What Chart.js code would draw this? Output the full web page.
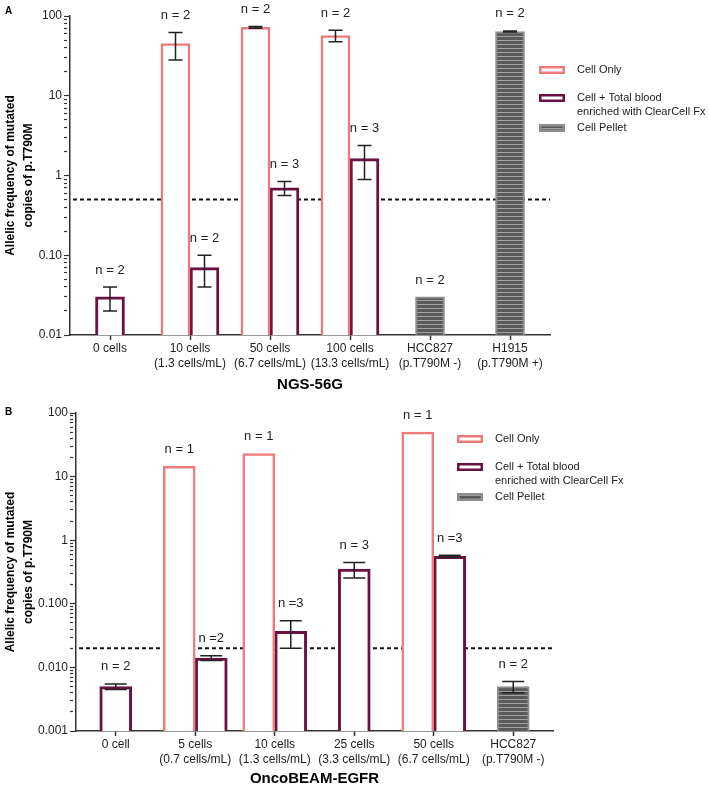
<!DOCTYPE html>
<html>
<head>
<meta charset="utf-8">
<script src="https://cdn.jsdelivr.net/npm/chart.js@4.4.0/dist/chart.umd.min.js"></script>
<style>
    html, body { margin: 0; padding: 0; background: #fff; }
    #wrapA { position: absolute; left: 0; top: 0; width: 709px; height: 395px; }
    #wrapB { position: absolute; left: 0; top: 395px; width: 709px; height: 395px; }
</style>
</head>
<body>
<div id="wrapA"><canvas id="chartA"></canvas></div>
<div id="wrapB"><canvas id="chartB"></canvas></div>
<script>
// --- Painel A : NGS-56G ---
const categoriesA = [['0 cells'], ['10 cells', '(1.3 cells/mL)'], ['50 cells', '(6.7 cells/mL)'],
    ['100 cells', '(13.3 cells/mL)'], ['HCC827', '(p.T790M -)'], ['H1915', '(p.T790M +)']];
const cellOnlyA = [null, 45, 72, 57, null, null];
const cellOnlyErrA = [null, 17, 2, 9.5, null, null];
const cellOnlyNA = [null, 'n = 2', 'n = 2', 'n = 2', null, null];
const bloodA = [0.03, 0.07, 0.7, 1.63, null, null];
const bloodErrA = [0.01, 0.03, 0.14, 0.74, null, null];
const bloodNA = ['n = 2', 'n = 2', 'n = 3', 'n = 3', null, null];
const pelletA = [null, null, null, null, 0.03, 64];
const pelletErrA = [null, null, null, null, null, 1];
const pelletNA = [null, null, null, null, 'n = 2', 'n = 2'];
const thresholdA = 0.5;
const yMajorsA = [0.01, 0.1, 1, 10, 100];
const yLabelsA = ['0.01', '0.10', '1', '10', '100'];

// --- Painel B : OncoBEAM-EGFR ---
const categoriesB = [['0 cell'], ['5 cells', '(0.7 cells/mL)'], ['10 cells', '(1.3 cells/mL)'],
    ['25 cells', '(3.3 cells/mL)'], ['50 cells', '(6.7 cells/mL)'], ['HCC827', '(p.T790M -)']];
const cellOnlyB = [null, 14.5, 23, null, 50, null];
const cellOnlyErrB = [null, null, null, null, null, null];
const cellOnlyNB = [null, 'n = 1', 'n = 1', null, 'n = 1', null];
const bloodB = [0.005, 0.014, 0.037, 0.35, 0.56, null];
const bloodErrB = [0.0005, 0.0012, 0.017, 0.095, 0.02, null];
const bloodNB = ['n = 2', 'n =2', 'n =3', 'n = 3', 'n =3', null];
const pelletB = [null, null, null, null, null, 0.005];
const pelletErrB = [null, null, null, null, null, 0.001];
const pelletNB = [null, null, null, null, null, 'n = 2'];
const thresholdB = 0.02;
const yMajorsB = [0.001, 0.01, 0.1, 1, 10, 100];
const yLabelsB = ['0.001', '0.010', '0.100', '1', '10', '100'];

const legendLabels = ['Cell Only', ['Cell + Total blood', 'enriched with ClearCell Fx'], 'Cell Pellet'];

// --- Estilos ---
const FONT = "'Liberation Sans', Arial, sans-serif";
const PINK = '#f07a7a';
const PURPLE = '#6a1242';
const INK = '#222';

function stripePattern() {
    const c = document.createElement('canvas');
    c.width = 4; c.height = 4;
    const g = c.getContext('2d');
    g.fillStyle = '#5a5a5a'; g.fillRect(0, 0, 4, 4);
    g.fillStyle = '#a2a2a2'; g.fillRect(0, 0, 4, 1);
    return g.createPattern(c, 'repeat');
}
const PELLET_FILL = stripePattern();

function logTicks(majors) {
    const ticks = [];
    majors.forEach((m, i) => {
        if (i === majors.length - 1) { ticks.push(m); return; }
        for (let k = 1; k < 10; k++) ticks.push(Number((k * m).toPrecision(6)));
    });
    return ticks.map(v => ({ value: v }));
}
function isMajor(v) {
    const l = Math.log10(v);
    return Math.abs(l - Math.round(l)) < 1e-6;
}

// --- Plugin: linha tracejada, barras de erro, rótulos n, legenda ---
const panelDecor = {
    id: 'panelDecor',
    beforeDatasetsDraw(chart, args, opts) {
        const { ctx, chartArea } = chart;
        const y = chart.scales.y.getPixelForValue(opts.threshold);
        ctx.save();
        ctx.setLineDash([4, 3]);
        ctx.lineWidth = 2;
        ctx.strokeStyle = '#111';
        ctx.beginPath();
        ctx.moveTo(chartArea.left + 3, y);
        ctx.lineTo(chartArea.right, y);
        ctx.stroke();
        ctx.restore();
    },
    afterDatasetsDraw(chart, args, opts) {
        const ctx = chart.ctx;
        const yScale = chart.scales.y;
        chart.data.datasets.forEach((ds, di) => {
            const meta = chart.getDatasetMeta(di);
            meta.data.forEach((bar, i) => {
                const v = ds.data[i];
                if (v == null) return;
                const e = ds.errors[i];
                let topPx = yScale.getPixelForValue(v);
                ctx.save();
                if (e) {
                    const hi = yScale.getPixelForValue(v + e);
                    const lo = yScale.getPixelForValue(v - e);
                    ctx.strokeStyle = INK;
                    ctx.lineWidth = 1.5;
                    ctx.beginPath();
                    ctx.moveTo(bar.x, hi); ctx.lineTo(bar.x, lo);
                    ctx.moveTo(bar.x - opts.capHalf, hi); ctx.lineTo(bar.x + opts.capHalf, hi);
                    ctx.moveTo(bar.x - opts.capHalf, lo); ctx.lineTo(bar.x + opts.capHalf, lo);
                    ctx.stroke();
                    topPx = Math.min(topPx, hi);
                }
                if (ds.nLabels[i]) {
                    ctx.fillStyle = INK;
                    ctx.font = '13px ' + FONT;
                    ctx.textAlign = 'center';
                    ctx.textBaseline = 'middle';
                    ctx.fillText(ds.nLabels[i], bar.x, topPx - 17);
                }
                ctx.restore();
            });
        });
    },
    afterDraw(chart, args, opts) {
        const ctx = chart.ctx;
        ctx.save();
        // letra do painel
        ctx.fillStyle = '#000';
        ctx.font = 'bold 10px ' + FONT;
        ctx.textAlign = 'left';
        ctx.textBaseline = 'middle';
        ctx.fillText(opts.letter, 5, opts.letterY);

        // legenda
        let y = opts.legendY;
        ctx.font = '11px ' + FONT;
        chart.data.datasets.forEach(ds => {
            const lines = Array.isArray(ds.label) ? ds.label : [ds.label];
            ctx.fillStyle = ds.backgroundColor;
            ctx.fillRect(opts.legendX, y - 4, 26, 8);
            ctx.strokeStyle = ds.borderColor;
            ctx.lineWidth = 2.5;
            ctx.strokeRect(opts.legendX + 1.25, y - 2.75, 23.5, 5.5);
            ctx.fillStyle = INK;
            lines.forEach((t, k) => ctx.fillText(t, opts.legendX + 38, y + k * 14));
            y += 14 * (lines.length - 1) + (lines.length > 1 ? 16 : 28);
        });
        ctx.restore();
    }
};

function makeChart(canvasId, cfg) {
    const datasets = [
        { label: legendLabels[0], data: cfg.cellOnly, errors: cfg.cellOnlyErr, nLabels: cfg.cellOnlyN,
          backgroundColor: '#ffffff', borderColor: PINK, borderWidth: 2.5 },
        { label: legendLabels[1], data: cfg.blood, errors: cfg.bloodErr, nLabels: cfg.bloodN,
          backgroundColor: '#ffffff', borderColor: PURPLE, borderWidth: 3 },
        { label: legendLabels[2], data: cfg.pellet, errors: cfg.pelletErr, nLabels: cfg.pelletN,
          backgroundColor: PELLET_FILL, borderColor: '#8e8e8e', borderWidth: 2 }
    ];
    return new Chart(document.getElementById(canvasId).getContext('2d'), {
        type: 'bar',
        data: { labels: cfg.categories, datasets: datasets },
        options: {
            responsive: true,
            maintainAspectRatio: false,
            animation: false,
            skipNull: true,
            barThickness: cfg.barThickness,
            layout: { padding: { top: cfg.top, right: cfg.right, left: 0, bottom: 0 } },
            plugins: {
                legend: { display: false },
                tooltip: { enabled: false },
                panelDecor: {
                    threshold: cfg.threshold, capHalf: cfg.capHalf, letter: cfg.letter, letterY: cfg.letterY,
                    legendX: cfg.legendX, legendY: cfg.legendY
                }
            },
            scales: {
                x: {
                    offset: true,
                    border: { color: '#333', width: 1.5 },
                    grid: { offset: false, drawOnChartArea: false, tickLength: 5, tickColor: '#333', tickWidth: 1.5 },
                    ticks: {
                        autoSkip: false, maxRotation: 0, minRotation: 0, padding: 1, color: INK,
                        font: { family: FONT, size: 12, lineHeight: 1.25 }
                    },
                    title: {
                        display: true, text: cfg.xTitle, color: '#000',
                        font: { family: FONT, size: 15, weight: 'bold' }, padding: { bottom: cfg.xTitlePad }
                    },
                    afterFit(s) { s.height = cfg.xHeight; }
                },
                y: {
                    type: 'logarithmic',
                    min: cfg.yMajors[0],
                    max: cfg.yMajors[cfg.yMajors.length - 1],
                    border: { color: '#333', width: 1.5 },
                    grid: {
                        drawOnChartArea: false, tickLength: 6, tickColor: '#333', tickWidth: 1.2,
                        tickBorderDash: c => (c.tick && !isMajor(c.tick.value)) ? [3, 30] : []
                    },
                    ticks: {
                        autoSkip: false, padding: 2, color: INK, font: { family: FONT, size: 12 },
                        callback: value => {
                            const idx = cfg.yMajors.findIndex(m => Math.abs(m - value) / m < 1e-6);
                            return idx >= 0 ? cfg.yLabels[idx] : '';
                        }
                    },
                    title: {
                        display: true, text: ['Allelic frequency of mutated', 'copies of p.T790M'], color: '#000',
                        font: { family: FONT, size: 12, weight: 'bold', lineHeight: 1.5 }, padding: { top: 2 }
                    },
                    afterBuildTicks(s) { s.ticks = logTicks(cfg.yMajors); },
                    afterFit(s) { s.width = cfg.yWidth; }
                }
            }
        },
        plugins: [panelDecor]
    });
}

makeChart('chartA', {
    categories: categoriesA, cellOnly: cellOnlyA, cellOnlyErr: cellOnlyErrA, cellOnlyN: cellOnlyNA,
    blood: bloodA, bloodErr: bloodErrA, bloodN: bloodNA, pellet: pelletA, pelletErr: pelletErrA, pelletN: pelletNA,
    threshold: thresholdA, yMajors: yMajorsA, yLabels: yLabelsA, xTitle: 'NGS-56G',
    barThickness: 29, capHalf: 7, top: 16, right: 159, yWidth: 70, xHeight: 60, xTitlePad: 1,
    letter: 'A', letterY: 11, legendX: 539, legendY: 70
});

makeChart('chartB', {
    categories: categoriesB, cellOnly: cellOnlyB, cellOnlyErr: cellOnlyErrB, cellOnlyN: cellOnlyNB,
    blood: bloodB, bloodErr: bloodErrB, bloodN: bloodNB, pellet: pelletB, pelletErr: pelletErrB, pelletN: pelletNB,
    threshold: thresholdB, yMajors: yMajorsB, yLabels: yLabelsB, xTitle: 'OncoBEAM-EGFR',
    barThickness: 32, capHalf: 11, top: 18, right: 156, yWidth: 76, xHeight: 59, xTitlePad: 2,
    letter: 'B', letterY: 17, legendX: 457, legendY: 44
});
</script>
</body>
</html>
